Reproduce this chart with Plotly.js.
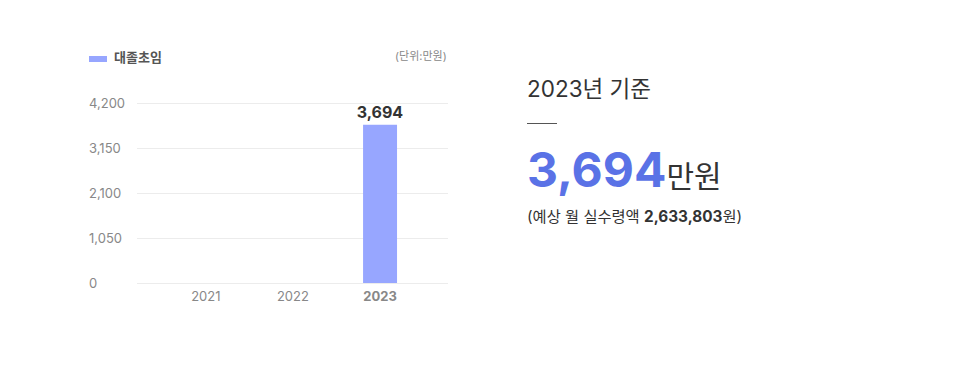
<!DOCTYPE html>
<html><head><meta charset="utf-8">
<script src="https://cdn.plot.ly/plotly-3.0.1.min.js"></script>
<style>html,body{margin:0;padding:0;background:#fff}#chart{width:954px;height:366px}</style>
</head><body><div id="chart"></div>
<script>
const years = ['2021', '2022', '2023'];
const salary = [null, null, 3694];
const tickVals = [0, 1050, 2100, 3150, 4200];
const tickLabels = ['0', '1,050', '2,100', '3,150', '4,200'];
const yearLabels = ['2021', '2022', '<b>2023</b>'];
const seriesName = '대졸초임';
const unitText = '(단위:만원)';
const baseYear = '2023년 기준';
const headline = '3,694';
const headlineUnit = '만원';
const netMonthly = '2,633,803';

const FONT = 'Inter, "Noto Sans CJK KR", sans-serif';
const W = 954, H = 366, ML = 85;
const PW = W - ML;
const px = x => (x - ML) / PW;
const py = y => (H - y) / H;
const YMAX = 4200, PLOT_H = 180, PAD = 30;
const perPx = YMAX / PLOT_H;
const yDomain = [py(283 + PAD), py(103 - PAD)];
const yRange = [-PAD * perPx, YMAX + PAD * perPx];

const trace = {
  type: 'bar', x: years, y: salary,
  marker: {color: '#97a6ff'}, width: 0.39,
  text: salary.map(v => v == null ? '' : '<b>' + v.toLocaleString('en-US') + '</b>'),
  textposition: 'outside', cliponaxis: false, constraintext: 'none',
  textfont: {family: FONT, size: 16, color: '#333'},
  hoverinfo: 'none', showlegend: false
};

const layout = {
  width: W, height: H,
  margin: {l: ML, r: 0, t: 0, b: 0},
  paper_bgcolor: '#fff', plot_bgcolor: 'rgba(0,0,0,0)',
  font: {family: FONT},
  xaxis: {
    type: 'category', anchor: 'y',
    domain: [px(137), px(448)], range: [-0.79, 2.78],
    tickvals: years, ticktext: yearLabels,
    tickfont: {family: FONT, size: 13, color: '#888'},
    showgrid: false, zeroline: false, showline: false, ticks: '',
    ticklabelstandoff: 4 - PAD
  },
  yaxis: {
    domain: yDomain, range: yRange,
    tickvals: tickVals, showticklabels: false,
    showgrid: true, gridcolor: '#ececec', gridwidth: 1,
    zeroline: false, showline: false, ticks: ''
  },
  yaxis2: {
    overlaying: 'y', anchor: 'free', position: 0, side: 'left',
    domain: yDomain, range: yRange,
    tickvals: tickVals, ticktext: tickLabels,
    ticklabelposition: 'inside', ticks: '',
    tickfont: {family: FONT, size: 13, color: '#888'},
    showgrid: false, zeroline: false, showline: false
  },
  shapes: [
    {type: 'rect', xref: 'paper', yref: 'paper', x0: px(89), x1: px(107), y0: py(62), y1: py(56), fillcolor: '#97a6ff', line: {width: 0}},
    {type: 'line', xref: 'paper', yref: 'paper', x0: px(527), x1: px(557), y0: py(123.5), y1: py(123.5), line: {color: '#555', width: 1}}
  ],
  annotations: [
    {xref: 'paper', yref: 'paper', x: px(112), y: py(57), xanchor: 'left', yanchor: 'middle', showarrow: false,
      text: '<b>' + seriesName + '</b>', font: {family: FONT, size: 13, color: '#555'}},
    {xref: 'paper', yref: 'paper', x: px(449), y: py(56), xanchor: 'right', yanchor: 'middle', showarrow: false,
      text: unitText, font: {family: FONT, size: 11, color: '#888'}},
    {xref: 'paper', yref: 'paper', x: px(525), y: py(88), xanchor: 'left', yanchor: 'middle', showarrow: false,
      text: baseYear, font: {family: FONT, size: 22.5, color: '#333'}},
    {xref: 'paper', yref: 'paper', x: px(525), y: py(170), xanchor: 'left', yanchor: 'middle', showarrow: false,
      text: '<b><span style="color:#5a72e6;font-size:48px">' + headline + '</span></b><span style="font-size:30px;color:#333">' + headlineUnit + '</span>',
      font: {family: FONT, size: 30, color: '#333'}},
    {xref: 'paper', yref: 'paper', x: px(525), y: py(216), xanchor: 'left', yanchor: 'middle', showarrow: false,
      text: '(예상 월 실수령액 <b>' + netMonthly + '</b>원)', font: {family: FONT, size: 15.3, color: '#333'}}
  ]
};

const axisTrace = {type: 'scatter', mode: 'markers', x: [years[0]], y: [null], yaxis: 'y2', hoverinfo: 'none', showlegend: false};

Plotly.newPlot('chart', [trace, axisTrace], layout, {displayModeBar: false, staticPlot: true});
</script></body></html>
